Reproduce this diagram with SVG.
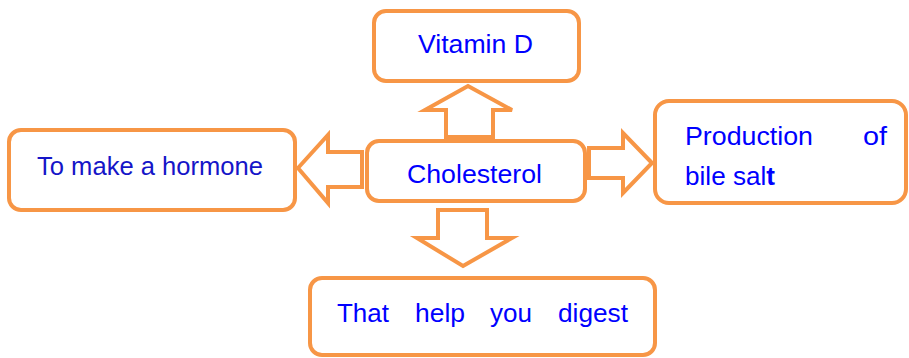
<svg xmlns="http://www.w3.org/2000/svg" width="909" height="358" viewBox="0 0 909 358">
<style>
.box{fill:#fff;stroke:#F79646;stroke-width:4}
.arr{fill:#fff;stroke:#F79646;stroke-width:4;stroke-linejoin:miter}
.t{font-family:"Liberation Sans",Arial,sans-serif;font-size:26px;fill:#0000ff}
</style>
<rect width="909" height="358" fill="#fff"/>
<g id="connectors">
<path class="arr" d="M468,86 L512,110 L493,110 L493,137 L446,137 L446,110 L425,110 Z"/>
<path class="arr" d="M298,168 L328,135 L328,152 L362,152 L362,187 L328,187 L328,203 Z"/>
<path class="arr" d="M652,163 L623,133 L623,148 L589,148 L589,178 L623,178 L623,193 Z"/>
<path class="arr" d="M463,266 L512,238 L487,238 L487,210 L438,210 L438,238 L417,238 Z"/>
</g>
<g id="vitamin-d">
<rect class="box" x="374" y="11" width="205" height="70" rx="12"/>
<text class="t" x="418" y="53" textLength="115" lengthAdjust="spacingAndGlyphs">Vitamin D</text>
</g>
<g id="hormone">
<rect class="box" x="9" y="130" width="286" height="80" rx="12"/>
<text class="t" x="37" y="175" style="fill:#1515c8" textLength="226" lengthAdjust="spacingAndGlyphs">To make a hormone</text>
</g>
<g id="cholesterol">
<rect class="box" x="367" y="141" width="218" height="60" rx="12"/>
<text class="t" x="407" y="183" textLength="135" lengthAdjust="spacingAndGlyphs">Cholesterol</text>
</g>
<g id="bile-salt">
<rect class="box" x="655" y="101" width="251" height="102" rx="14"/>
<text class="t" x="685" y="145" textLength="128" lengthAdjust="spacingAndGlyphs">Production</text>
<text class="t" x="863" y="145" textLength="24" lengthAdjust="spacingAndGlyphs">of</text>
<text class="t" x="685" y="185" textLength="90" lengthAdjust="spacingAndGlyphs">bile sal<tspan font-weight="bold">t</tspan></text>
</g>
<g id="digest">
<rect class="box" x="310" y="278" width="345" height="77" rx="12"/>
<text class="t" x="337" y="322" textLength="52" lengthAdjust="spacingAndGlyphs">That</text>
<text class="t" x="415" y="322" textLength="50" lengthAdjust="spacingAndGlyphs">help</text>
<text class="t" x="490" y="322" textLength="42" lengthAdjust="spacingAndGlyphs">you</text>
<text class="t" x="558" y="322" textLength="70" lengthAdjust="spacingAndGlyphs">digest</text>
</g>
</svg>
